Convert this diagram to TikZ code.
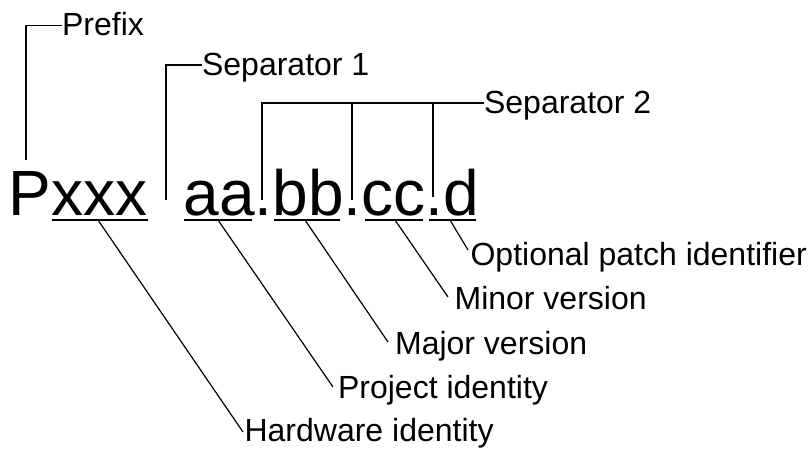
\documentclass[tikz,border=0pt]{standalone}
\usepackage{fontspec}
\setmainfont{Liberation Sans}
\begin{document}
\begin{tikzpicture}[x=1pt,y=-1pt,line width=1.2pt,
  lbl/.style={font=\fontsize{32}{32}\selectfont,inner sep=0pt,anchor=base west},
  big/.style={font=\fontsize{64}{64}\selectfont,inner sep=0pt,anchor=base west},
  uline/.style={line width=1.4pt}]
\useasboundingbox (0,0) rectangle (812,448);
% main code
\node[big] (codeA) at (8,215) {Pxxx};
\node[big] (codeB) at (183,215) {aa.bb.cc.d};
% labels
\node[lbl] (pfx) at (61.5,35.5) {Prefix};
\node[lbl] (sepA) at (201.5,75) {Separator 1};
\node[lbl] (sepB) at (483.5,113) {Separator 2};
\node[lbl] (opt) at (470,265) {Optional patch identifier};
\node[lbl] (minor) at (454,309) {Minor version};
\node[lbl] (major) at (394.5,354) {Major version};
\node[lbl] (proj) at (337.5,398) {Project identity};
\node[lbl] (hw) at (244,441) {Hardware identity};
% underline ends / leader starts
\coordinate (uxa) at (52,220);  \coordinate (uxb) at (148,220);
\coordinate (uaa) at (184,220); \coordinate (uab) at (252,220);
\coordinate (uba) at (274,220); \coordinate (ubb) at (340,220);
\coordinate (uca) at (365,220); \coordinate (ucb) at (423,220);
\coordinate (uda) at (429,220); \coordinate (udb) at (476,220);
\coordinate (lx) at (98,220);
\coordinate (la) at (218,220);
\coordinate (lb) at (305,220);
\coordinate (lc) at (395,220);
\coordinate (ld) at (450,220);
% separator feet and tops
\coordinate (fp) at (26,160);
\coordinate (fs) at (166,200);
\coordinate (fa) at (262,200);
\coordinate (fb) at (352,200);
\coordinate (fc) at (433,197);
\coordinate (tb) at (352,103);
\coordinate (tc) at (433,103);
% underlines
\draw[uline] (uxa) -- (uxb);
\draw[uline] (uaa) -- (uab);
\draw[uline] (uba) -- (ubb);
\draw[uline] (uca) -- (ucb);
\draw[uline] (uda) -- (udb);
% separator leaders
\draw (fp) |- ([yshift=10pt]pfx.base west);
\draw (fs) |- ([yshift=10pt]sepA.base west);
\draw (fa) |- ([yshift=10pt]sepB.base west);
\draw (fb) -- (tb);
\draw (fc) -- (tc);
% diagonal leaders
\draw (lx) -- ([shift={(-1,-9)}]hw.base west);
\draw (la) -- ([shift={(-4.5,-11)}]proj.base west);
\draw (lb) -- ([shift={(-6.5,-12)}]major.base west);
\draw (lc) -- ([shift={(-6,-12)}]minor.base west);
\draw (ld) -- ([shift={(-2,-15)}]opt.base west);
\end{tikzpicture}
\end{document}
